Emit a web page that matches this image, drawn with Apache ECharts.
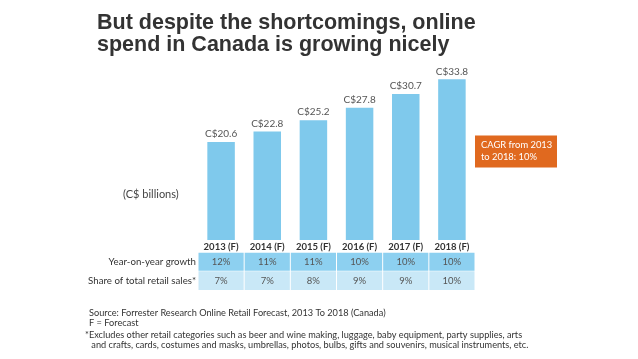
<!DOCTYPE html>
<html><head><meta charset="utf-8">
<script src="https://cdn.jsdelivr.net/npm/echarts@6/dist/echarts.min.js"></script>
<style>html,body{margin:0;padding:0;background:#fff}#c{width:638px;height:359px}</style>
</head><body><div id="c"></div>
<script>
var years = ['2013 (F)','2014 (F)','2015 (F)','2016 (F)','2017 (F)','2018 (F)'];
var spend = [20.6, 22.8, 25.2, 27.8, 30.7, 33.8];
var growth = ['12%','11%','11%','10%','10%','10%'];
var share = ['7%','7%','8%','9%','9%','10%'];
var rowNames = ['Year-on-year growth','Share of total retail sales*'];
var titleText = 'But despite the shortcomings, online\nspend in Canada is growing nicely';
var unitText = '(C$ billions)';
var cagrText = 'CAGR from 2013\nto 2018: 10%';
var footerLines = [
  'Source: Forrester Research Online Retail Forecast, 2013 To 2018 (Canada)',
  'F = Forecast',
  '*Excludes other retail categories such as beer and wine making, luggage, baby equipment, party supplies, arts',
  ' and crafts, cards, costumes and masks, umbrellas, photos, bulbs, gifts and souvenirs, musical instruments, etc.'
];

var FONT = "Lato, sans-serif";
var tableData = [];
for (var i = 0; i < years.length; i++) {
  tableData.push([i, 0, growth[i]]);
  tableData.push([i, 1, share[i]]);
}
var rowColors = ['#8dd0f0', '#c9e8f7'];

var chart = echarts.init(document.getElementById('c'), null, {renderer: 'canvas'});
var footerGraphics = footerLines.map(function (t, k) {
  var ys = [315, 325, 337, 347];
  return {type: 'text', left: (k === 2 ? 85 : 89), top: ys[k] - 6,
    style: {text: t, font: '9.2px ' + FONT, fill: '#333'}};
});
chart.setOption({
  animation: false,
  title: {
    text: titleText, left: 92, top: 7,
    textStyle: {fontFamily: 'Liberation Sans, Arial, sans-serif', fontWeight: 'bold', fontSize: 21.5, lineHeight: 22, color: '#333'}
  },
  grid: [
    {left: 198, width: 277, top: 73.6, height: 166.4},
    {left: 198, width: 277, top: 252.7, height: 37.3}
  ],
  xAxis: [
    {type: 'category', gridIndex: 0, data: years,
      axisLine: {show: false}, axisTick: {show: false},
      axisLabel: {interval: 0, margin: 2, fontFamily: FONT, fontWeight: 'bold', fontSize: 9.5, color: '#333'}},
    {type: 'category', gridIndex: 1, data: years, show: false}
  ],
  yAxis: [
    {type: 'value', gridIndex: 0, min: 0, max: 35, show: false},
    {type: 'category', gridIndex: 1, data: rowNames, inverse: true,
      axisLine: {show: false}, axisTick: {show: false},
      axisLabel: {margin: 2, fontFamily: FONT, fontSize: 9.7, color: '#333'}}
  ],
  series: [
    {type: 'bar', xAxisIndex: 0, yAxisIndex: 0, data: spend, barWidth: 27.5,
      itemStyle: {color: '#7fc9ec'},
      label: {show: true, position: 'top', distance: 3, formatter: function (p) { return 'C$' + p.value.toFixed(1); },
        fontFamily: FONT, fontSize: 10, color: '#555'}},
    {type: 'custom', xAxisIndex: 1, yAxisIndex: 1, data: tableData,
      renderItem: function (params, api) {
        var c = api.coord([api.value(0), api.value(1)]);
        var s = api.size([1, 1]);
        var r = api.value(1);
        return {type: 'group', children: [
          {type: 'rect', shape: {x: c[0] - s[0] / 2 + 0.5, y: c[1] - s[1] / 2, width: s[0] - 1, height: s[1] - (r === 0 ? 0.5 : 0)},
            style: {fill: rowColors[r]}},
          {type: 'text', style: {text: tableData[params.dataIndex][2], x: c[0], y: c[1], textAlign: 'center', textVerticalAlign: 'middle',
            font: '9.5px ' + FONT, fill: '#555'}}
        ]};
      }}
  ],
  graphic: [
    {type: 'text', left: 123, top: 189, style: {text: unitText, font: '11px ' + FONT, fill: '#444'}},
    {type: 'group', left: 475, top: 135.5, children: [
      {type: 'rect', shape: {x: 0, y: 0, width: 82, height: 32}, style: {fill: '#e0691f'}},
      {type: 'text', x: 6, y: 3, style: {text: cagrText, font: '9.4px ' + FONT, fill: '#fff', lineHeight: 12}}
    ]}
  ].concat(footerGraphics)
});
</script></body></html>
